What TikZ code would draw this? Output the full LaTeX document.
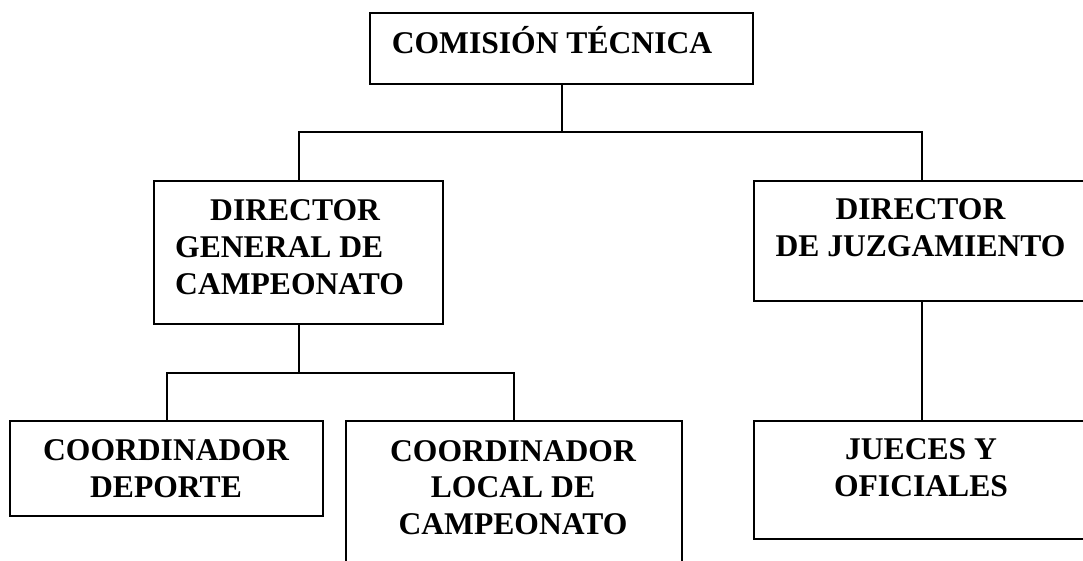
\documentclass[tikz,border=0pt]{standalone}
\usepackage{fontspec}
\setmainfont{Liberation Serif}
\begin{document}
\begin{tikzpicture}[x=1pt,y=-1pt,
  box/.style={draw, line width=2pt, rectangle, inner sep=0pt},
  lbl/.style={inner sep=0pt, font=\fontsize{31.6}{36.8}\selectfont\bfseries},
  conn/.style={line width=2pt}]
\useasboundingbox (0,0) rectangle (1083,560);
% boxes
\node[box, minimum width=383pt, minimum height=71pt] (ct) at (561.5,48.5) {};
\node[box, minimum width=289pt, minimum height=143pt] (dgc) at (298.5,252.5) {};
\node[box, minimum width=336pt, minimum height=120pt] (dj) at (922,241) {};
\node[box, minimum width=313pt, minimum height=95pt] (cd) at (166.5,468.5) {};
\node[box, minimum width=336pt, minimum height=149pt] (clc) at (514,495.5) {};
\node[box, minimum width=336pt, minimum height=118pt] (jo) at (922,480) {};
% labels
\node[lbl, anchor=base] (tct) at (552,53) {COMISIÓN TÉCNICA};
\node[lbl, anchor=west, align=left] (tdgc) at (175,247) {\hspace*{35pt}DIRECTOR\\GENERAL DE\\CAMPEONATO};
\node[lbl, align=center] (tdj) at (920.5,228) {DIRECTOR\\DE JUZGAMIENTO};
\node[lbl, align=center] (tcd) at (166,469) {COORDINADOR\\DEPORTE};
\node[lbl, align=center] (tclc) at (513,487.5) {COORDINADOR\\LOCAL DE\\CAMPEONATO};
\node[lbl, align=center] (tjo) at (921,468) {JUECES Y\\OFICIALES};
% connectors
\coordinate (bus1) at (0,132);
\coordinate (bus2) at (0,373);
\draw[conn] (ct.south) -- (ct.south |- bus1) -| (dgc.north);
\draw[conn] (ct.south) -- (ct.south |- bus1) -| (dj.north);
\draw[conn] (dgc.south) -- (dgc.south |- bus2) -| (cd.north);
\draw[conn] (dgc.south) -- (dgc.south |- bus2) -| (clc.north);
\draw[conn] (dj.south) -- (jo.north);
\end{tikzpicture}
\end{document}
